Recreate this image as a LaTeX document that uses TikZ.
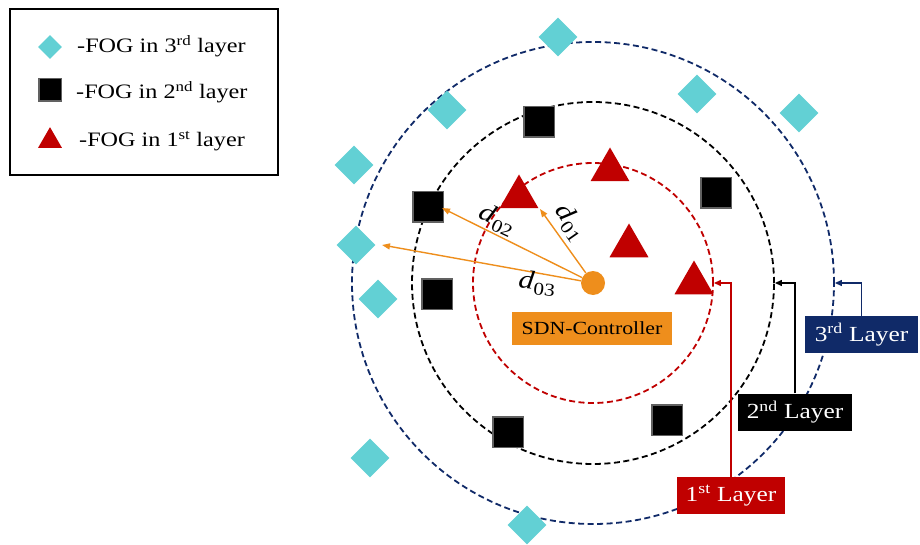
\documentclass[tikz,border=0pt]{standalone}
\usepackage{fontspec}
\setmainfont[FakeStretch=1.18]{Liberation Serif}
\usetikzlibrary{shapes.geometric,arrows.meta}
\definecolor{fogred}{RGB}{192,0,0}
\definecolor{fognavy}{RGB}{16,42,104}
\definecolor{fogorange}{RGB}{238,142,28}
\definecolor{fogcyan}{RGB}{98,208,212}
\newcommand{\dist}[1]{\textit{d}\kern0.5pt\raisebox{-5pt}{\fontsize{18}{19}\selectfont #1}}
\begin{document}
\begin{tikzpicture}[x=1pt,y=-1pt,
 ring/.style={circle,draw,line width=1.8pt,dash pattern=on 6pt off 3.5pt,inner sep=0},
 cyanfog/.style={diamond,fill=fogcyan,inner sep=0,minimum width=39pt,minimum height=39pt},
 blackfog/.style={rectangle,fill=black,draw=black!62,line width=1.5pt,inner sep=0,minimum size=30.5pt},
 redfog/.style={regular polygon,regular polygon sides=3,fill=fogred,inner sep=0,minimum size=45pt},
 darr/.style={fogorange,line width=1.4pt,-{Triangle[length=8pt,width=6pt]}},
 layerbox/.style={inner sep=0,text=white,minimum height=37pt,font=\fontsize{21.5}{24}\selectfont},
 larr/.style={line width=1.2pt,-{Triangle[length=7pt,width=6pt]}},
 legtext/.style={anchor=base west,inner sep=0,font=\fontsize{20.5}{24}\selectfont},
 dlabel/.style={inner sep=0,font=\fontsize{26}{28}\selectfont}
]
\useasboundingbox (0,0) rectangle (920,545);
\fill[white] (0,0) rectangle (920,545);

% rings
\node[ring,draw=fognavy,minimum size=482pt] (ring3) at (593,283) {};
\node[ring,draw=black,minimum size=362pt] (ring2) at (593,283) {};
\node[ring,draw=fogred,minimum size=240pt] (ring1) at (593,283) {};

% 3rd layer fogs
\node[cyanfog] (c1) at (558,37) {};
\node[cyanfog] (c2) at (697,94) {};
\node[cyanfog] (c3) at (799,113) {};
\node[cyanfog] (c4) at (447,110) {};
\node[cyanfog] (c5) at (354,165) {};
\node[cyanfog] (c6) at (356,245) {};
\node[cyanfog] (c7) at (378,299) {};
\node[cyanfog] (c8) at (370,458) {};
\node[cyanfog] (c9) at (527,525) {};

% 2nd layer fogs
\node[blackfog] (b1) at (539,122) {};
\node[blackfog] (b2) at (716,193) {};
\node[blackfog] (b3) at (428,207) {};
\node[blackfog] (b4) at (437,294) {};
\node[blackfog] (b5) at (508,432) {};
\node[blackfog] (b6) at (667,420) {};

% 1st layer fogs
\node[redfog] (t1) at (610,170) {};
\node[redfog] (t2) at (519,197) {};
\node[redfog] (t3) at (629,246) {};
\node[redfog] (t4) at (694,283) {};

% controller
\node[circle,fill=fogorange,minimum size=24pt,inner sep=0] (ctrl) at (593,283) {};
\node[fill=fogorange,minimum width=160pt,minimum height=33pt,inner sep=0,font=\fontsize{18.5}{22}\selectfont] (sdn) at (592,328.5) {SDN-Controller};

\coordinate (e01) at (540,209);
\coordinate (e02) at (442,208);
\coordinate (e03) at (382,245);
\draw[darr] (ctrl) -- (e01);
\draw[darr] (ctrl) -- (e02);
\draw[darr] (ctrl) -- (e03);
\node[dlabel,rotate=-55] (lab01) at (570,222) {\dist{01}};
\node[dlabel,rotate=-25] (lab02) at (497,220) {\dist{02}};
\node[dlabel,rotate=-7] (lab03) at (537,283) {\dist{03}};

% layer labels
\node[layerbox,fill=fogred,minimum width=108pt] (l1) at (731,495.5) {1\textsuperscript{st} Layer};
\node[layerbox,fill=black,minimum width=114pt] (l2) at (795,412) {2\textsuperscript{nd} Layer};
\node[layerbox,fill=fognavy,minimum width=113pt] (l3) at (861.5,334.5) {3\textsuperscript{rd} Layer};
\draw[larr,fogred] (l1.north) |- (ring1.east);
\draw[larr,black] (l2.north) |- (ring2.east);
\draw[larr,fognavy] (l3.north) |- (ring3.east);

% legend
\node[draw,line width=2pt,minimum width=268pt,minimum height=165.5pt,inner sep=0] (legend) at (144,92.25) {};
\node[cyanfog,minimum width=24pt,minimum height=24pt] (lg3) at (50,47) {};
\node[legtext] (lt3) at (77,53) {-FOG in 3\textsuperscript{rd} layer};
\node[blackfog,minimum size=22.5pt] (lg2) at (50,90) {};
\node[legtext] (lt2) at (76,99) {-FOG in 2\textsuperscript{nd} layer};
\node[redfog,minimum size=27.7pt] (lg1) at (50,141) {};
\node[legtext] (lt1) at (79,147) {-FOG in 1\textsuperscript{st} layer};
\end{tikzpicture}
\end{document}
